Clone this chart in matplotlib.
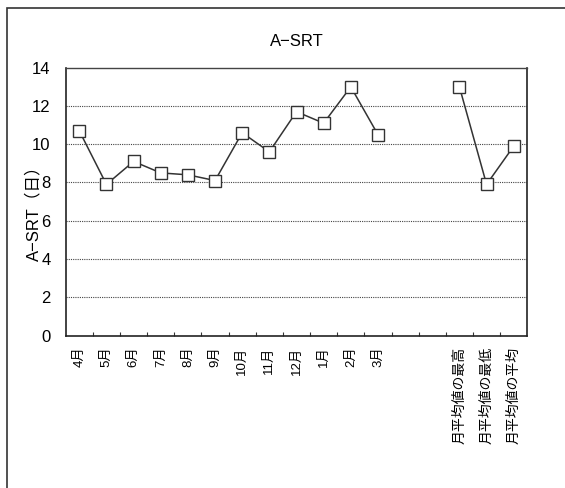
import numpy as np
import matplotlib
matplotlib.use("Agg")
import matplotlib.pyplot as plt
from matplotlib.patches import Rectangle

plt.rcParams['font.family'] = ['Liberation Sans', 'Noto Sans CJK JP', 'DejaVu Sans']

categories = ["4月", "5月", "6月", "7月", "8月", "9月", "10月", "11月", "12月", "1月", "2月", "3月",
              "", "", "月平均値の最高", "月平均値の最低", "月平均値の平均"]
values = [10.7, 7.9, 9.1, 8.5, 8.4, 8.1, 10.6, 9.6, 11.7, 11.1, 13.0, 10.5,
          np.nan, np.nan, 13.0, 7.9, 9.9]
title = "A−SRT"
ylabel = "A−SRT（日）"
yticks = [0, 2, 4, 6, 8, 10, 12, 14]

W, H = 565, 488
fig = plt.figure(figsize=(W / 100, H / 100), dpi=100)

# outer chart frame (right/bottom extend past image edge)
fig.patches.append(Rectangle((6.5 / W, 0 - 0.01), 1.05, 1 - 8 / H + 0.01,
                             transform=fig.transFigure, fill=False,
                             edgecolor='#333333', linewidth=1.2))

ax = fig.add_axes([65.7 / W, 1 - 335.5 / H, (527.3 - 65.7) / W, (335.5 - 67.7) / H])

x = np.arange(len(categories))
ax.plot(x, values, color='#333333', linewidth=1.1, marker='s', markersize=8.6,
        markerfacecolor='white', markeredgecolor='#333333', markeredgewidth=1.0,
        zorder=3)

ax.set_xlim(-0.5, len(categories) - 0.5)
ax.set_ylim(0, 14)
ax.set_yticks(yticks)
ax.set_yticklabels([str(v) for v in yticks], fontsize=12)
ax.tick_params(axis='y', length=0, pad=11)

ax.set_xticks(x)
ax.set_xticklabels(categories, rotation=90, fontsize=9.5, va='top', ha='center')
for lbl in ax.get_xticklabels()[14:]:
    lbl.set_fontsize(10)
ax.tick_params(axis='x', which='major', length=0, pad=8)
ax.set_xticks(np.arange(0.5, len(categories) - 0.5, 1), minor=True)
ax.tick_params(axis='x', which='minor', direction='in', length=3, width=0.8, color='#333333')

for yv in yticks[1:-1]:
    ax.axhline(yv, color='#444444', linewidth=0.8, linestyle=(0, (1, 1)), zorder=1)

for side in ['left', 'bottom', 'right', 'top']:
    ax.spines[side].set_color('#222222')
    ax.spines[side].set_linewidth(1.2)
ax.spines['top'].set_linewidth(1.0)
ax.spines['top'].set_color('#444444')

ax.set_ylabel(ylabel, fontsize=12)
ax.yaxis.set_label_coords((41 - 65.7) / (527.3 - 65.7), 0.47)
fig.text((65.7 + 527.3) / 2 / W, 1 - 42 / H, title, fontsize=12, ha='center', va='center')

fig.savefig("out.png", dpi=100, facecolor='white')
